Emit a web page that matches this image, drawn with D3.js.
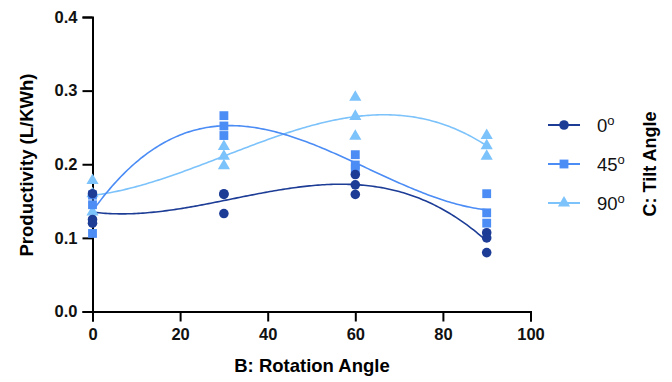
<!DOCTYPE html>
<html>
<head>
<meta charset="utf-8">
<script src="https://cdn.jsdelivr.net/npm/d3@7"></script>
<style>
  body { margin: 0; background: #fff; }
  svg { font-family: "Liberation Sans", Arial, sans-serif; }
</style>
</head>
<body>
<div id="chart"></div>
<script>
// rotation angles (x) and replicate productivity values per tilt angle
const rotation = [0, 30, 60, 90];
const tilt0 = [[0.160, 0.125, 0.120], [0.160, 0.159, 0.133], [0.186, 0.172, 0.159], [0.107, 0.100, 0.080]];
const tilt45 = [[0.158, 0.145, 0.106], [0.266, 0.252, 0.239], [0.213, 0.199, 0.194], [0.160, 0.134, 0.120]];
const tilt90 = [[0.178, 0.160, 0.135], [0.224, 0.211, 0.198], [0.291, 0.265, 0.238], [0.239, 0.225, 0.211]];
const seriesNames = ["0", "45", "90"];
const xTicks = [0, 20, 40, 60, 80, 100];
const yTicks = [0.0, 0.1, 0.2, 0.3, 0.4];

const W = 672, H = 382;
const colors = ["#1c3c96", "#4b8cf5", "#7cc2fb"];

const svg = d3.select("#chart").append("svg")
    .attr("width", W)
    .attr("height", H);

const x = d3.scaleLinear([0, 100], [92.5, 530.5]);
const y = d3.scaleLinear([0, 0.4], [311.5, 17]);

// axes
svg.append("g")
    .attr("transform", `translate(0,${y(0)})`)
    .call(d3.axisBottom(x).tickValues(xTicks).tickSize(10).tickPadding(7))
    .call(g => g.select(".domain").attr("stroke-width", 2))
    .call(g => g.selectAll(".tick line").attr("stroke-width", 2))
    .call(g => g.selectAll("text").attr("font-size", 16.5).attr("font-weight", "bold").attr("fill", "#111"));

svg.append("g")
    .attr("transform", `translate(${x(0)},0)`)
    .call(d3.axisLeft(y).tickValues(yTicks).tickFormat(d3.format(".1f")).tickSize(10).tickPadding(5))
    .call(g => g.select(".domain").attr("stroke-width", 2))
    .call(g => g.selectAll(".tick line").attr("stroke-width", 2))
    .call(g => g.selectAll("text").attr("font-size", 16.5).attr("font-weight", "bold").attr("fill", "#111"));

svg.append("text")
    .attr("x", 312).attr("y", 372)
    .attr("text-anchor", "middle")
    .attr("font-size", 18.5).attr("font-weight", "bold")
    .text("B: Rotation Angle");

svg.append("text")
    .attr("transform", "translate(33,165) rotate(-90)")
    .attr("text-anchor", "middle")
    .attr("font-size", 18.5).attr("font-weight", "bold")
    .text("Productivity (L/KWh)");

// cubic through the means (polynomial fit, 4 levels)
function cubicFit(vals) {
    const means = vals.map(v => d3.mean(v));
    return t => d3.sum(rotation, (xi, i) => {
        let term = means[i];
        rotation.forEach((xj, j) => { if (j !== i) term *= (t - xj) / (xi - xj); });
        return term;
    });
}

const series = [tilt0, tilt45, tilt90];
const grid = d3.range(0, 90.01, 0.5);
const line = d3.line().x(d => x(d[0])).y(d => y(d[1]));

const symbols = [d3.symbolCircle, d3.symbolSquare, d3.symbolTriangle];
const sizes = [72, 78, 64];

const plot = svg.append("g");
// lines first (light to dark), then points
[2, 1, 0].forEach(si => {
    const f = cubicFit(series[si]);
    plot.append("path")
        .attr("fill", "none")
        .attr("stroke", colors[si])
        .attr("stroke-width", 1.6)
        .attr("d", line(grid.map(t => [t, f(t)])));
});

[2, 1, 0].forEach(si => {
    const pts = [];
    series[si].forEach((vals, i) => vals.forEach(v => pts.push([rotation[i], v])));
    plot.append("g").selectAll("path")
        .data(pts)
        .join("path")
        .attr("transform", d => `translate(${x(d[0])},${y(d[1])})`)
        .attr("d", d3.symbol(symbols[si], sizes[si]))
        .attr("fill", colors[si]);
});

// legend
const legend = svg.append("g");
const ly = [125, 164, 203];
seriesNames.forEach((name, i) => {
    const g = legend.append("g").attr("transform", `translate(0,${ly[i]})`);
    g.append("line")
        .attr("x1", 548).attr("x2", 580)
        .attr("stroke", colors[i]).attr("stroke-width", 2);
    g.append("path")
        .attr("transform", "translate(564,0)")
        .attr("d", d3.symbol(symbols[i], sizes[i]))
        .attr("fill", colors[i]);
    const t = g.append("text")
        .attr("x", 597).attr("y", 7)
        .attr("font-size", 18.5)
        .attr("fill", "#111")
        .text(name);
    t.append("tspan")
        .attr("font-size", 13)
        .attr("dy", -7)
        .text("o");
});

svg.append("text")
    .attr("transform", "translate(656,164) rotate(-90)")
    .attr("text-anchor", "middle")
    .attr("font-size", 18).attr("font-weight", "bold")
    .text("C: Tilt Angle");
</script>
</body>
</html>
